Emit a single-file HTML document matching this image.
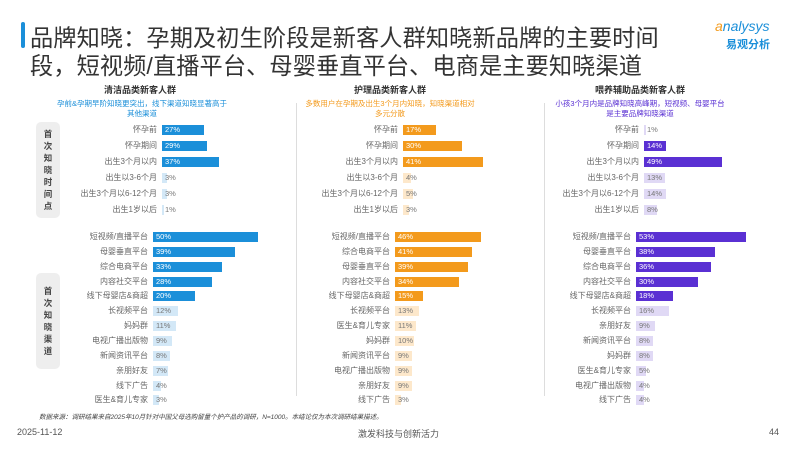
<!DOCTYPE html>
<html><head><meta charset="utf-8"><style>
body{margin:0;width:799px;height:450px;background:#fff;position:relative;overflow:hidden;font-family:"Liberation Sans","Noto Sans CJK SC",sans-serif;color:#555}
.a{position:absolute}
.t{left:30px;font-size:23.2px;color:#333;white-space:nowrap;letter-spacing:0.1px}
.p{position:absolute;top:0;width:1px;height:450px}
.row{position:absolute;left:0;height:10px;margin-top:-5px;width:1px}
.row span{position:absolute;right:6px;top:-1px;font-size:8px;white-space:nowrap;color:#666;line-height:12px}
.row i{position:absolute;left:0;top:0;height:10px}
.row b{position:absolute;left:3px;top:0;font-size:7.5px;font-weight:normal;line-height:10px;color:#777}
.bl i{background:#1b8fd9}.bl .d b{color:#fff}.bl .l i{background:#d3e8f7}
.or i{background:#f39a1c}.or .d b{color:#fff}.or .l i{background:#fde8cb}
.pu i{background:#5a30d3}.pu .d b{color:#fff}.pu .l i{background:#e0d9f5}
.hd{font-size:9px;font-weight:bold;color:#333;text-align:center;width:240px}
.sb{font-size:7.5px;text-align:center;width:240px;line-height:10px}
.box{background:#eeeeee;border-radius:5px;width:24px;font-size:8.5px;color:#444;text-align:center;line-height:12px;font-weight:bold}
.sep{width:1px;background:#ddd}
</style></head><body>
<div class="a" style="left:21px;top:22px;width:4px;height:26px;background:#1b8fd9;border-radius:2px"></div>
<div class="a t" style="top:19px">品牌知晓：孕期及初生阶段是新客人群知晓新品牌的主要时间</div>
<div class="a t" style="top:47px">段，短视频/直播平台、母婴垂直平台、电商是主要知晓渠道</div>
<div class="a" style="left:715px;top:18px;font-size:14px;color:#1b8fd9;font-style:italic"><span style="color:#f39a1c">a</span>nalysys</div>
<div class="a" style="left:726px;top:36px;font-size:11px;color:#1b8fd9;font-weight:bold">易观分析</div>

<div class="a hd" style="left:20px;top:83px">清洁品类新客人群</div>
<div class="a sb" style="left:22px;top:99px;color:#1b8fd9">孕前&amp;孕期早阶知晓更突出，线下渠道知晓显著高于<br>其他渠道</div>
<div class="a hd" style="left:270px;top:83px">护理品类新客人群</div>
<div class="a sb" style="left:270px;top:99px;color:#f39a1c">多数用户在孕期及出生3个月内知晓，知晓渠道相对<br>多元分散</div>
<div class="a hd" style="left:520px;top:83px">喂养辅助品类新客人群</div>
<div class="a sb" style="left:520px;top:99px;color:#5a30d3">小孩3个月内是品牌知晓高峰期，短视频、母婴平台<br>是主要品牌知晓渠道</div>

<div class="a sep" style="left:296px;top:103px;height:293px"></div>
<div class="a sep" style="left:544px;top:103px;height:293px"></div>

<div class="a box" style="left:36px;top:122px;height:96px;padding-top:6px;box-sizing:border-box">首<br>次<br>知<br>晓<br>时<br>间<br>点</div>
<div class="a box" style="left:36px;top:273px;height:96px;padding-top:12px;box-sizing:border-box">首<br>次<br>知<br>晓<br>渠<br>道</div>

<div class="p bl" style="left:162px">
<div class="row d" style="top:130px"><span>怀孕前</span><i style="width:42px"></i><b>27%</b></div>
<div class="row d" style="top:146px"><span>怀孕期间</span><i style="width:45px"></i><b>29%</b></div>
<div class="row d" style="top:162px"><span>出生3个月以内</span><i style="width:57px"></i><b>37%</b></div>
<div class="row l" style="top:178px"><span>出生以3-6个月</span><i style="width:5px"></i><b>3%</b></div>
<div class="row l" style="top:194px"><span>出生3个月以6-12个月</span><i style="width:5px"></i><b>3%</b></div>
<div class="row l" style="top:210px"><span>出生1岁以后</span><i style="width:2px"></i><b>1%</b></div>
</div>
<div class="p bl" style="left:153px">
<div class="row d" style="top:237px"><span>短视频/直播平台</span><i style="width:105px"></i><b>50%</b></div>
<div class="row d" style="top:252px"><span>母婴垂直平台</span><i style="width:82px"></i><b>39%</b></div>
<div class="row d" style="top:267px"><span>综合电商平台</span><i style="width:69px"></i><b>33%</b></div>
<div class="row d" style="top:282px"><span>内容社交平台</span><i style="width:59px"></i><b>28%</b></div>
<div class="row d" style="top:296px"><span>线下母婴店&amp;商超</span><i style="width:42px"></i><b>20%</b></div>
<div class="row l" style="top:311px"><span>长视频平台</span><i style="width:25px"></i><b>12%</b></div>
<div class="row l" style="top:326px"><span>妈妈群</span><i style="width:23px"></i><b>11%</b></div>
<div class="row l" style="top:341px"><span>电视广播出版物</span><i style="width:19px"></i><b>9%</b></div>
<div class="row l" style="top:356px"><span>新闻资讯平台</span><i style="width:17px"></i><b>8%</b></div>
<div class="row l" style="top:371px"><span>亲朋好友</span><i style="width:15px"></i><b>7%</b></div>
<div class="row l" style="top:386px"><span>线下广告</span><i style="width:8px"></i><b>4%</b></div>
<div class="row l" style="top:400px"><span>医生&amp;育儿专家</span><i style="width:6px"></i><b>3%</b></div>
</div>

<div class="p or" style="left:403px">
<div class="row d" style="top:130px"><span>怀孕前</span><i style="width:33px"></i><b>17%</b></div>
<div class="row d" style="top:146px"><span>怀孕期间</span><i style="width:59px"></i><b>30%</b></div>
<div class="row d" style="top:162px"><span>出生3个月以内</span><i style="width:80px"></i><b>41%</b></div>
<div class="row l" style="top:178px"><span>出生以3-6个月</span><i style="width:8px"></i><b>4%</b></div>
<div class="row l" style="top:194px"><span>出生3个月以6-12个月</span><i style="width:10px"></i><b>5%</b></div>
<div class="row l" style="top:210px"><span>出生1岁以后</span><i style="width:6px"></i><b>3%</b></div>
</div>
<div class="p or" style="left:395px">
<div class="row d" style="top:237px"><span>短视频/直播平台</span><i style="width:86px"></i><b>46%</b></div>
<div class="row d" style="top:252px"><span>综合电商平台</span><i style="width:77px"></i><b>41%</b></div>
<div class="row d" style="top:267px"><span>母婴垂直平台</span><i style="width:73px"></i><b>39%</b></div>
<div class="row d" style="top:282px"><span>内容社交平台</span><i style="width:64px"></i><b>34%</b></div>
<div class="row d" style="top:296px"><span>线下母婴店&amp;商超</span><i style="width:28px"></i><b>15%</b></div>
<div class="row l" style="top:311px"><span>长视频平台</span><i style="width:24px"></i><b>13%</b></div>
<div class="row l" style="top:326px"><span>医生&amp;育儿专家</span><i style="width:21px"></i><b>11%</b></div>
<div class="row l" style="top:341px"><span>妈妈群</span><i style="width:19px"></i><b>10%</b></div>
<div class="row l" style="top:356px"><span>新闻资讯平台</span><i style="width:17px"></i><b>9%</b></div>
<div class="row l" style="top:371px"><span>电视广播出版物</span><i style="width:17px"></i><b>9%</b></div>
<div class="row l" style="top:386px"><span>亲朋好友</span><i style="width:17px"></i><b>9%</b></div>
<div class="row l" style="top:400px"><span>线下广告</span><i style="width:6px"></i><b>3%</b></div>
</div>

<div class="p pu" style="left:644px">
<div class="row l" style="top:130px"><span>怀孕前</span><i style="width:2px"></i><b>1%</b></div>
<div class="row d" style="top:146px"><span>怀孕期间</span><i style="width:22px"></i><b>14%</b></div>
<div class="row d" style="top:162px"><span>出生3个月以内</span><i style="width:78px"></i><b>49%</b></div>
<div class="row l" style="top:178px"><span>出生以3-6个月</span><i style="width:21px"></i><b>13%</b></div>
<div class="row l" style="top:194px"><span>出生3个月以6-12个月</span><i style="width:22px"></i><b>14%</b></div>
<div class="row l" style="top:210px"><span>出生1岁以后</span><i style="width:13px"></i><b>8%</b></div>
</div>
<div class="p pu" style="left:636px">
<div class="row d" style="top:237px"><span>短视频/直播平台</span><i style="width:110px"></i><b>53%</b></div>
<div class="row d" style="top:252px"><span>母婴垂直平台</span><i style="width:79px"></i><b>38%</b></div>
<div class="row d" style="top:267px"><span>综合电商平台</span><i style="width:75px"></i><b>36%</b></div>
<div class="row d" style="top:282px"><span>内容社交平台</span><i style="width:62px"></i><b>30%</b></div>
<div class="row d" style="top:296px"><span>线下母婴店&amp;商超</span><i style="width:37px"></i><b>18%</b></div>
<div class="row l" style="top:311px"><span>长视频平台</span><i style="width:33px"></i><b>16%</b></div>
<div class="row l" style="top:326px"><span>亲朋好友</span><i style="width:19px"></i><b>9%</b></div>
<div class="row l" style="top:341px"><span>新闻资讯平台</span><i style="width:17px"></i><b>8%</b></div>
<div class="row l" style="top:356px"><span>妈妈群</span><i style="width:17px"></i><b>8%</b></div>
<div class="row l" style="top:371px"><span>医生&amp;育儿专家</span><i style="width:10px"></i><b>5%</b></div>
<div class="row l" style="top:386px"><span>电视广播出版物</span><i style="width:8px"></i><b>4%</b></div>
<div class="row l" style="top:400px"><span>线下广告</span><i style="width:8px"></i><b>4%</b></div>
</div>

<div class="a" style="left:39px;top:411px;font-size:6.5px;font-style:italic;color:#444;white-space:nowrap">数据来源：调研结果来自2025年10月针对中国父母选购留量个护产品的调研，N=1000。本结论仅为本次调研结果描述。</div>
<div class="a" style="left:17px;top:427px;font-size:9px;color:#555">2025-11-12</div>
<div class="a" style="left:358px;top:427px;font-size:9px;color:#555">激发科技与创新活力</div>
<div class="a" style="left:769px;top:427px;font-size:9px;color:#555">44</div>
</body></html>
